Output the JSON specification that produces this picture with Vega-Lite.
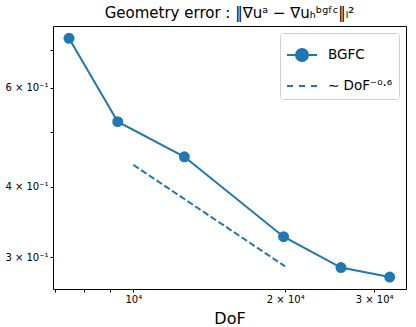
{
  "$schema": "https://vega.github.io/schema/vega-lite/v6.json",
  "width": 353,
  "height": 263,
  "autosize": "none",
  "padding": {"left": 53, "top": 26, "right": 10, "bottom": 38},
  "config": {
    "font": "DejaVu Sans",
    "view": {"stroke": "#000", "strokeWidth": 1},
    "axis": {"domain": false, "grid": false, "tickColor": "#000", "labelColor": "#000", "labelFontSize": 10, "tickSize": 3, "labelPadding": 2, "titleColor": "#000", "titleFontWeight": "normal"}
  },
  "title": {"text": "Geometry error : ‖∇uᵃ − ∇uₕᵇᵍᶠᶜ‖ₗ²", "fontSize": 15, "fontWeight": "normal", "color": "#000", "anchor": "middle", "offset": 5},
  "datasets": {
    "bgfc": [
      {"dof": 7455, "err": 0.734, "series": "BGFC"},
      {"dof": 9311, "err": 0.522, "series": "BGFC"},
      {"dof": 12623, "err": 0.452, "series": "BGFC"},
      {"dof": 19846, "err": 0.326, "series": "BGFC"},
      {"dof": 25785, "err": 0.2873, "series": "BGFC"},
      {"dof": 32211, "err": 0.2764, "series": "BGFC"}
    ],
    "ref": [
      {"dof": 10000, "err": 0.4373, "series": "∼ DoF⁻⁰·⁶"},
      {"dof": 20000, "err": 0.2886, "series": "∼ DoF⁻⁰·⁶"}
    ]
  },
  "encoding": {
    "x": {"field": "dof", "type": "quantitative", "scale": {"type": "log", "domain": [6930, 34700], "nice": false, "zero": false},
      "axis": {"values": [7000, 8000, 9000, 10000, 20000, 30000], "labelExpr": "datum.value == 10000 ? '10⁴' : datum.value == 20000 ? '2 × 10⁴' : datum.value == 30000 ? '3 × 10⁴' : ''", "title": "DoF", "titleFontSize": 16, "titlePadding": 6}},
    "y": {"field": "err", "type": "quantitative", "scale": {"type": "log", "domain": [0.2632, 0.772], "nice": false, "zero": false},
      "axis": {"values": [0.3, 0.4, 0.5, 0.6, 0.7], "labelExpr": "datum.value == 0.3 ? '3 × 10⁻¹' : datum.value == 0.4 ? '4 × 10⁻¹' : datum.value == 0.6 ? '6 × 10⁻¹' : ''", "title": null}},
    "color": {"field": "series", "type": "nominal",
      "scale": {"domain": ["BGFC", "∼ DoF⁻⁰·⁶"], "range": ["#1f77b4", "#1f77b4"]},
      "legend": {"title": null, "orient": "top-right", "offset": 7, "labelFontSize": 13.5, "labelColor": "#000", "symbolSize": 900, "strokeColor": "#d0d0d0", "fillColor": "rgba(255,255,255,0.8)", "cornerRadius": 3, "padding": 6, "rowPadding": 5, "labelOffset": 10, "symbolStrokeWidth": 2,
        "encode": {"symbols": {"update": {
          "shape": {"signal": "datum.value === 'BGFC' ? 'M-1,0H1M-0.4,0A0.4,0.4 0 1,0 0.4,0A0.4,0.4 0 1,0 -0.4,0' : 'M-1,0H-0.6M-0.2,0H0.2M0.6,0H1'"},
          "fill": {"value": "#1f77b4"},
          "stroke": {"value": "#1f77b4"},
          "strokeWidth": {"value": 2},
          "opacity": {"value": 1}
        }}}}}
  },
  "layer": [
    {"data": {"name": "bgfc"}, "mark": {"type": "line", "strokeWidth": 2, "point": {"filled": true, "size": 120, "opacity": 1}}},
    {"data": {"name": "ref"}, "mark": {"type": "line", "strokeWidth": 2, "strokeDash": [6.5, 2.8]}}
  ]
}
